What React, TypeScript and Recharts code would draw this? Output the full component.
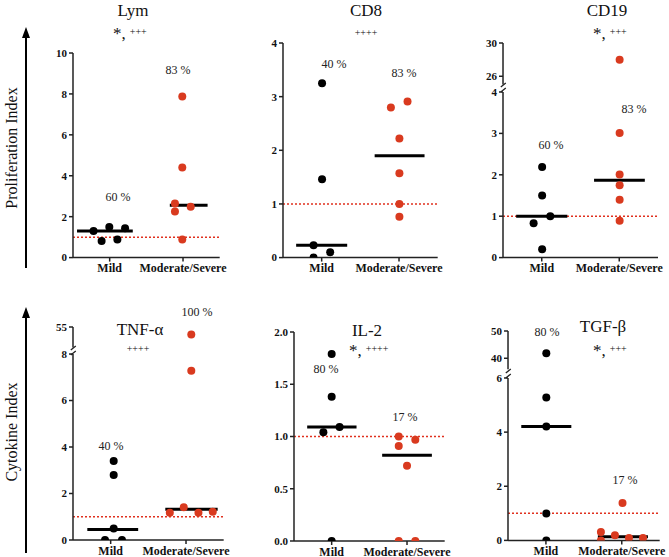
import React from "react";
import { ScatterChart, Scatter, XAxis, YAxis, ReferenceLine } from "recharts";

const groups = ["Mild", "Moderate/Severe"];
const BLACK = "#000";
const RED = "#d93a1f";
const DOTLINE = "#e0301e";
const FONT = "'Liberation Serif', 'DejaVu Serif', serif";

// Lym
const lymMild = [{ x: 0.56, y: 1.3 }, { x: 0.78, y: 0.81 }, { x: 0.99, y: 1.5 }, { x: 1.21, y: 0.88 }, { x: 1.42, y: 1.43 }];
const lymMod = [{ x: 2.98, y: 7.87 }, { x: 2.98, y: 4.4 }, { x: 2.78, y: 2.64 }, { x: 2.78, y: 2.25 }, { x: 3.21, y: 2.49 }, { x: 2.98, y: 0.88 }];
const lymMedians = [{ x1: 0.11, x2: 1.63, y: 1.3 }, { x1: 2.64, x2: 3.67, y: 2.56 }];

// CD8
const cd8Mild = [{ x: 1.01, y: 3.25 }, { x: 1.01, y: 1.46 }, { x: 0.79, y: 0.23 }, { x: 0.79, y: 0 }, { x: 1.22, y: 0.1 }];
const cd8Mod = [{ x: 2.79, y: 2.8 }, { x: 3.22, y: 2.91 }, { x: 3.01, y: 2.22 }, { x: 3.01, y: 1.57 }, { x: 3.01, y: 1.0 }, { x: 3.01, y: 0.76 }];
const cd8Medians = [{ x1: 0.34, x2: 1.66, y: 0.23 }, { x1: 2.37, x2: 3.66, y: 1.9 }];

// CD19
const cd19Mild = [{ x: 1.01, y: 2.19 }, { x: 1.01, y: 1.5 }, { x: 1.22, y: 1.0 }, { x: 0.79, y: 0.83 }, { x: 1.01, y: 0.2 }];
const cd19Mod = [{ x: 3.01, y: 28.0 }, { x: 3.01, y: 3.01 }, { x: 3.01, y: 2.01 }, { x: 3.01, y: 1.75 }, { x: 3.01, y: 1.4 }, { x: 3.01, y: 0.89 }];
const cd19Medians = [{ x1: 0.34, x2: 1.66, y: 1.0 }, { x1: 2.35, x2: 3.66, y: 1.87 }];

// TNF-a
const tnfMild = [{ x: 1.08, y: 3.4 }, { x: 1.08, y: 2.8 }, { x: 1.08, y: 0.49 }, { x: 0.85, y: 0 }, { x: 1.3, y: 0 }];
const tnfMod = [{ x: 3.14, y: 53.2 }, { x: 3.14, y: 7.28 }, { x: 2.94, y: 1.41 }, { x: 2.57, y: 1.17 }, { x: 3.33, y: 1.17 }, { x: 3.71, y: 1.22 }];
const tnfMedians = [{ x1: 0.38, x2: 1.73, y: 0.45 }, { x1: 2.45, x2: 3.84, y: 1.32 }];

// IL-2
const il2Mild = [{ x: 1.0, y: 1.79 }, { x: 1.0, y: 1.38 }, { x: 0.78, y: 1.04 }, { x: 1.21, y: 1.09 }, { x: 1.0, y: 0 }];
const il2Mod = [{ x: 2.78, y: 1.0 }, { x: 2.78, y: 0.91 }, { x: 3.22, y: 0.97 }, { x: 3.0, y: 0.72 }, { x: 2.78, y: 0 }, { x: 3.22, y: 0 }];
const il2Medians = [{ x1: 0.35, x2: 1.66, y: 1.09 }, { x1: 2.34, x2: 3.66, y: 0.82 }];

// TGF-b
const tgfMild = [{ x: 1.01, y: 41.8 }, { x: 1.01, y: 5.28 }, { x: 1.01, y: 4.21 }, { x: 1.01, y: 0.99 }, { x: 1.01, y: 0 }];
const tgfMod = [{ x: 2.45, y: 0.31 }, { x: 2.45, y: 0 }, { x: 2.82, y: 0.19 }, { x: 3.19, y: 0.09 }, { x: 3.56, y: 0.09 }, { x: 3.02, y: 1.38 }];
const tgfMedians = [{ x1: 0.35, x2: 1.67, y: 4.21 }, { x1: 2.37, x2: 3.69, y: 0.13 }];

const YW = 30;
const MT = 8;
const MR = 16;
const XH = 26;
const MB = 2;

type Pt = { x: number; y: number };
type Med = { x1: number; x2: number; y: number };
type SegDef = { yTop: number; yBot: number; domain: [number, number]; ticks: number[]; showX: boolean; fmt?: (v: number) => string };

const dot = (color: string) => (p: any) => <circle cx={p.cx} cy={p.cy} r={4} fill={color} />;

function Segment({ x0, xEnd, seg, mild, mod, medians }: { x0: number; xEnd: number; seg: SegDef; mild: Pt[]; mod: Pt[]; medians: Med[] }) {
  const [lo, hi] = seg.domain;
  const inSeg = (p: Pt) => p.y >= lo && p.y <= hi;
  const width = xEnd - x0 + YW + MR;
  const height = seg.yBot - seg.yTop + MT + (seg.showX ? XH : MB);
  const meds = medians.filter((m) => m.y >= lo && m.y <= hi);
  return (
    <div style={{ position: "absolute", left: x0 - YW, top: seg.yTop - MT }}>
      <ScatterChart width={width} height={height} margin={{ top: MT, right: MR, left: 0, bottom: seg.showX ? 0 : MB }}>
        <XAxis
          type="number"
          dataKey="x"
          domain={[0, 4]}
          ticks={[1, 3]}
          hide={!seg.showX}
          height={XH}
          tickFormatter={(v: number) => (v === 1 ? groups[0] : groups[1])}
          axisLine={{ stroke: "#222", strokeWidth: 1.5 }}
          tickLine={{ stroke: "#222", strokeWidth: 1.5 }}
          tickSize={4}
          tick={{ fontSize: 12, fontWeight: "bold", fontFamily: FONT, fill: "#111" }}
        />
        <YAxis
          type="number"
          dataKey="y"
          domain={seg.domain}
          ticks={seg.ticks}
          interval={0}
          allowDataOverflow
          width={YW}
          tickFormatter={seg.fmt ?? ((v: number) => String(v))}
          axisLine={{ stroke: "#222", strokeWidth: 1.5 }}
          tickLine={{ stroke: "#222", strokeWidth: 1.5 }}
          tickSize={4}
          tick={{ fontSize: 11, fontWeight: "bold", fontFamily: FONT, fill: "#111" }}
        />
        {lo <= 1 && hi >= 1 && <ReferenceLine key="one" y={1} stroke={DOTLINE} strokeDasharray="2 2" strokeWidth={1.5} />}
        {meds.length > 0 && (
          <ReferenceLine key="med0" segment={[{ x: meds[0].x1, y: meds[0].y }, { x: meds[0].x2, y: meds[0].y }]} stroke="#000" strokeWidth={3} />
        )}
        {meds.length > 1 && (
          <ReferenceLine key="med1" segment={[{ x: meds[1].x1, y: meds[1].y }, { x: meds[1].x2, y: meds[1].y }]} stroke="#000" strokeWidth={3} />
        )}
        <Scatter data={mild.filter(inSeg)} fill={BLACK} shape={dot(BLACK)} isAnimationActive={false} />
        <Scatter data={mod.filter(inSeg)} fill={RED} shape={dot(RED)} isAnimationActive={false} />
      </ScatterChart>
    </div>
  );
}

function Panel({ x0, xEnd, segs, mild, mod, medians }: { x0: number; xEnd: number; segs: SegDef[]; mild: Pt[]; mod: Pt[]; medians: Med[] }) {
  return (
    <>
      {segs.map((s, i) => (
        <Segment key={i} x0={x0} xEnd={xEnd} seg={s} mild={mild} mod={mod} medians={medians} />
      ))}
    </>
  );
}

function Stars({ x, y, stars, plus }: { x: number; y: number; stars: boolean; plus: string }) {
  return (
    <text x={x} y={y} fontFamily={FONT} fill="#111" textAnchor={stars ? "start" : "middle"}>
      {stars && <tspan fontSize={17}>*,</tspan>}
      <tspan fontSize={10} dx={stars ? 4 : 0} dy={stars ? -4 : 0}>{plus}</tspan>
    </text>
  );
}

function Pct({ x, y, t }: { x: number; y: number; t: string }) {
  return (
    <text x={x} y={y + 4} fontFamily={FONT} fontSize={12} fill="#222" textAnchor="middle">{t}</text>
  );
}

function Title({ x, y, t }: { x: number; y: number; t: string }) {
  return (
    <text x={x} y={y + 6} fontFamily={FONT} fontSize={17} fill="#111" textAnchor="middle">{t}</text>
  );
}

function BreakMark({ x, y }: { x: number; y: number }) {
  return (
    <g stroke="#222" strokeWidth={1.3}>
      <line x1={x - 2.5} y1={y - 1} x2={x + 2.5} y2={y - 5} />
      <line x1={x - 2.5} y1={y + 4} x2={x + 2.5} y2={y} />
    </g>
  );
}

export default function App() {
  return (
    <div style={{ position: "absolute", left: 0, top: 0, width: 669, height: 557, background: "#fff", fontFamily: FONT }}>
      <Panel x0={73.3} xEnd={220} mild={lymMild} mod={lymMod} medians={lymMedians}
        segs={[{ yTop: 52.7, yBot: 257.3, domain: [0, 10], ticks: [0, 2, 4, 6, 8, 10], showX: true }]} />
      <Panel x0={283.3} xEnd={438} mild={cd8Mild} mod={cd8Mod} medians={cd8Medians}
        segs={[{ yTop: 42.7, yBot: 257.3, domain: [0, 4], ticks: [0, 1, 2, 3, 4], showX: true }]} />
      <Panel x0={503.3} xEnd={658.3} mild={cd19Mild} mod={cd19Mod} medians={cd19Medians}
        segs={[
          { yTop: 42.7, yBot: 84.3, domain: [25, 30], ticks: [26, 30], showX: false },
          { yTop: 91.7, yBot: 257.3, domain: [0, 4], ticks: [0, 1, 2, 3, 4], showX: true },
        ]} />
      <Panel x0={73.3} xEnd={224} mild={tnfMild} mod={tnfMod} medians={tnfMedians}
        segs={[
          { yTop: 326.5, yBot: 347, domain: [50, 55], ticks: [55], showX: false },
          { yTop: 354, yBot: 540, domain: [0, 8], ticks: [0, 2, 4, 6, 8], showX: true },
        ]} />
      <Panel x0={294.3} xEnd={445} mild={il2Mild} mod={il2Mod} medians={il2Medians}
        segs={[{ yTop: 331.5, yBot: 540.5, domain: [0, 2], ticks: [0, 0.5, 1, 1.5, 2], showX: true, fmt: (v: number) => v.toFixed(1) }]} />
      <Panel x0={508.3} xEnd={660} mild={tgfMild} mod={tgfMod} medians={tgfMedians}
        segs={[
          { yTop: 331, yBot: 369.2, domain: [36, 50], ticks: [40, 50], showX: false },
          { yTop: 378.3, yBot: 540.7, domain: [0, 6], ticks: [0, 2, 4, 6], showX: true },
        ]} />

      <svg width={669} height={557} style={{ position: "absolute", left: 0, top: 0, pointerEvents: "none" }}>
        <line x1={26} y1={268} x2={26} y2={32} stroke="#000" strokeWidth={2} />
        <path d="M22,38 L26,27 L30,38 Z" fill="#000" />
        <line x1={26} y1={553} x2={26} y2={312} stroke="#000" strokeWidth={2} />
        <path d="M22,318 L26,307 L30,318 Z" fill="#000" />
        <text transform="translate(17,148) rotate(-90)" fontFamily={FONT} fontSize={16} fill="#111" textAnchor="middle">Proliferation Index</text>
        <text transform="translate(17,432) rotate(-90)" fontFamily={FONT} fontSize={16} fill="#111" textAnchor="middle">Cytokine Index</text>

        <BreakMark x={503.3} y={88} />
        <BreakMark x={73.3} y={351} />
        <BreakMark x={508.3} y={374} />

        <Title x={133} y={10} t="Lym" />
        <Title x={366} y={10} t="CD8" />
        <Title x={607} y={10} t="CD19" />
        <Title x={140} y={329} t="TNF-α" />
        <Title x={367} y={330} t="IL-2" />
        <Title x={603} y={326} t="TGF-β" />

        <Stars x={113} y={39} stars plus="+++" />
        <Stars x={366} y={36} stars={false} plus="++++" />
        <Stars x={593} y={39} stars plus="+++" />
        <Stars x={138} y={352} stars={false} plus="++++" />
        <Stars x={349} y={356} stars plus="++++" />
        <Stars x={593} y={356} stars plus="+++" />

        <Pct x={178} y={70} t="83 %" />
        <Pct x={118} y={197} t="60 %" />
        <Pct x={334} y={64} t="40 %" />
        <Pct x={404} y={73} t="83 %" />
        <Pct x={634} y={109} t="83 %" />
        <Pct x={551} y={145} t="60 %" />
        <Pct x={197} y={312} t="100 %" />
        <Pct x={111} y={446} t="40 %" />
        <Pct x={326} y={369} t="80 %" />
        <Pct x={405} y={417} t="17 %" />
        <Pct x={547} y={332} t="80 %" />
        <Pct x={625} y={480} t="17 %" />
      </svg>
    </div>
  );
}
